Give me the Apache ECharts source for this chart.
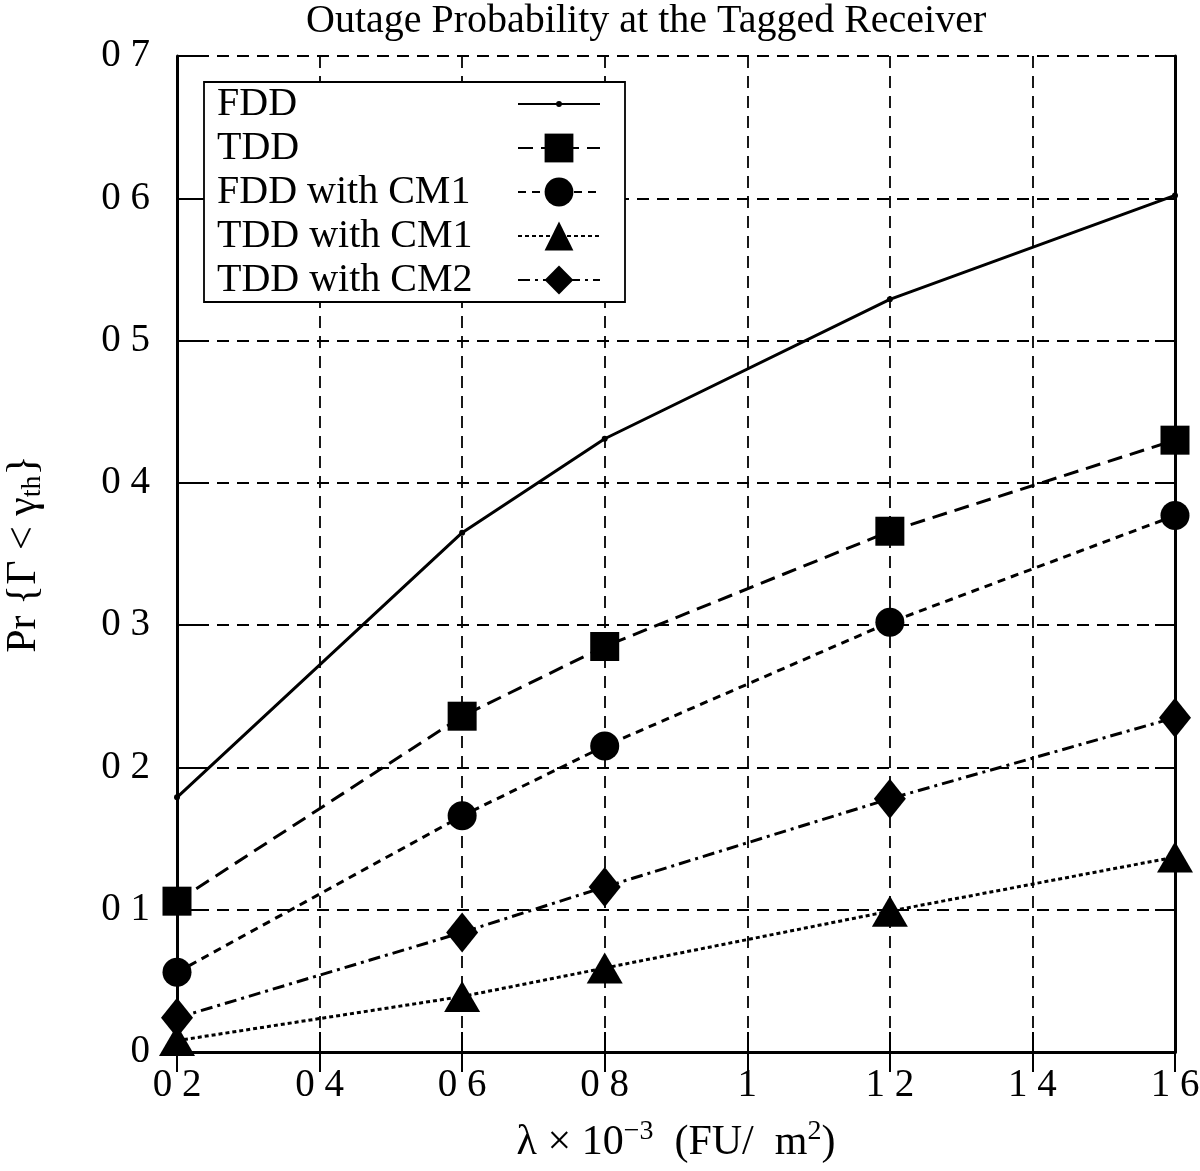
<!DOCTYPE html>
<html>
<head>
<meta charset="utf-8">
<script src="https://cdn.jsdelivr.net/npm/echarts@6/dist/echarts.min.js"></script>
<style>
  html, body { margin: 0; padding: 0; background: #fff; }
  #chart { width: 1200px; height: 1171px; }
</style>
</head>
<body>
<div id="chart"></div>
<script>
// ---- data ----
const lambdaValues = [0.2, 0.6, 0.8, 1.2, 1.6];
const fdd        = [0.179, 0.365, 0.431, 0.529, 0.602];
const tdd        = [0.106, 0.236, 0.285, 0.366, 0.430];
const fddCM1     = [0.056, 0.166, 0.215, 0.302, 0.377];
const tddCM1     = [0.008, 0.039, 0.059, 0.099, 0.137];
const tddCM2     = [0.024, 0.084, 0.116, 0.178, 0.235];
const seriesNames = ['FDD', 'TDD', 'FDD with CM1', 'TDD with CM1', 'TDD with CM2'];
const xTickLabels = ['0 2', '0 4', '0 6', '0 8', '1', '1 2', '1 4', '1 6'];
const yTickLabels = ['0', '0 1', '0 2', '0 3', '0 4', '0 5', '0 6', '0 7'];

const FONT = "'Liberation Serif', 'Times New Roman', serif";
const pairs = arr => lambdaValues.map((x, i) => [x, arr[i]]);
// small dot centred in a larger (invisible) box so the legend shows a small dot too
const smallDot = 'path://M0,0M100,100M40,50a10,10 0 1,0 20,0a10,10 0 1,0 -20,0';

const chart = echarts.init(document.getElementById('chart'), null, { renderer: 'canvas' });

const axisCommon = {
  axisLine: { show: true, lineStyle: { color: '#000', width: 3 } },
  axisTick: { show: true, inside: true, length: 20, lineStyle: { color: '#000', width: 2 } }
};
const gridLine = { show: true, lineStyle: { color: '#000', width: 1.8, type: [12, 8] } };

const option = {
  animation: false,
  backgroundColor: '#fff',
  title: {
    text: 'Outage Probability at the Tagged Receiver',
    left: 306, top: 1, padding: 0,
    textStyle: { fontFamily: FONT, fontSize: 40, fontWeight: 'normal', color: '#000' }
  },
  grid: { left: 177, right: 25, top: 56, bottom: 119, containLabel: false, outerBoundsMode: 'none' },
  legend: {
    orient: 'vertical',
    left: 204, top: 82,
    align: 'right',
    padding: [2, 24, 2, 13],
    itemWidth: 82, itemHeight: 36, itemGap: 4,
    borderColor: '#000', borderWidth: 1.8,
    backgroundColor: '#fff',
    selectedMode: false,
    data: seriesNames,
    formatter: name => '{t|' + name + '}',
    textStyle: {
      fontFamily: FONT, fontSize: 40, color: '#000',
      rich: { t: { width: 296, height: 36, lineHeight: 36, align: 'left', fontFamily: FONT, fontSize: 40, color: '#000' } }
    }
  },
  xAxis: [
    Object.assign({
      type: 'value', min: 0.2, max: 1.6, interval: 0.2, position: 'bottom',
      name: 'λ × 10{sup|−3}  (FU/  m{sup|2})',
      nameLocation: 'middle', nameGap: 66,
      nameTextStyle: {
        fontFamily: FONT, fontSize: 42, color: '#000',
        rich: { sup: { fontFamily: FONT, fontSize: 28, color: '#000', padding: [0, 0, 22, 0] } }
      },
      axisLabel: {
        margin: 14, fontFamily: FONT, fontSize: 39, color: '#000',
        formatter: v => xTickLabels[Math.round((v - 0.2) / 0.2)]
      },
      splitLine: gridLine
    }, axisCommon),
    Object.assign({
      type: 'value', min: 0.2, max: 1.6, interval: 0.2, position: 'top',
      axisLabel: { show: false }, splitLine: { show: false }
    }, axisCommon)
  ],
  yAxis: [
    Object.assign({
      type: 'value', min: 0, max: 0.7, interval: 0.1, position: 'left',
      name: 'Pr {Γ < γ{sub|th}}',
      nameLocation: 'middle', nameGap: 130, nameRotate: 90,
      nameTextStyle: {
        fontFamily: FONT, fontSize: 42, color: '#000',
        rich: { sub: { fontFamily: FONT, fontSize: 28, color: '#000', padding: [18, 0, 0, 0] } }
      },
      axisLabel: {
        margin: 27, fontFamily: FONT, fontSize: 39, color: '#000',
        formatter: v => yTickLabels[Math.round(v * 10)]
      },
      splitLine: gridLine
    }, axisCommon),
    Object.assign({
      type: 'value', min: 0, max: 0.7, interval: 0.1, position: 'right',
      axisLabel: { show: false }, splitLine: { show: false }
    }, axisCommon)
  ],
  series: [
    {
      name: seriesNames[0], type: 'line', data: pairs(fdd),
      symbol: smallDot, symbolSize: 30, symbolKeepAspect: true,
      lineStyle: { color: '#000', width: 3, type: 'solid' },
      itemStyle: { color: '#000' }
    },
    {
      name: seriesNames[1], type: 'line', data: pairs(tdd),
      symbol: 'rect', symbolSize: 29,
      lineStyle: { color: '#000', width: 3, type: [15, 8] },
      itemStyle: { color: '#000' }
    },
    {
      name: seriesNames[2], type: 'line', data: pairs(fddCM1),
      symbol: 'circle', symbolSize: 29,
      lineStyle: { color: '#000', width: 3, type: [8, 6] },
      itemStyle: { color: '#000' }
    },
    {
      name: seriesNames[3], type: 'line', data: pairs(tddCM1),
      symbol: 'triangle', symbolSize: [36, 31],
      lineStyle: { color: '#000', width: 3, type: [4, 3] },
      itemStyle: { color: '#000' }
    },
    {
      name: seriesNames[4], type: 'line', data: pairs(tddCM2),
      symbol: 'diamond', symbolSize: [32, 40],
      lineStyle: { color: '#000', width: 3, type: [12, 5, 3, 5] },
      itemStyle: { color: '#000' }
    }
  ]
};
chart.setOption(option);
</script>
</body>
</html>
